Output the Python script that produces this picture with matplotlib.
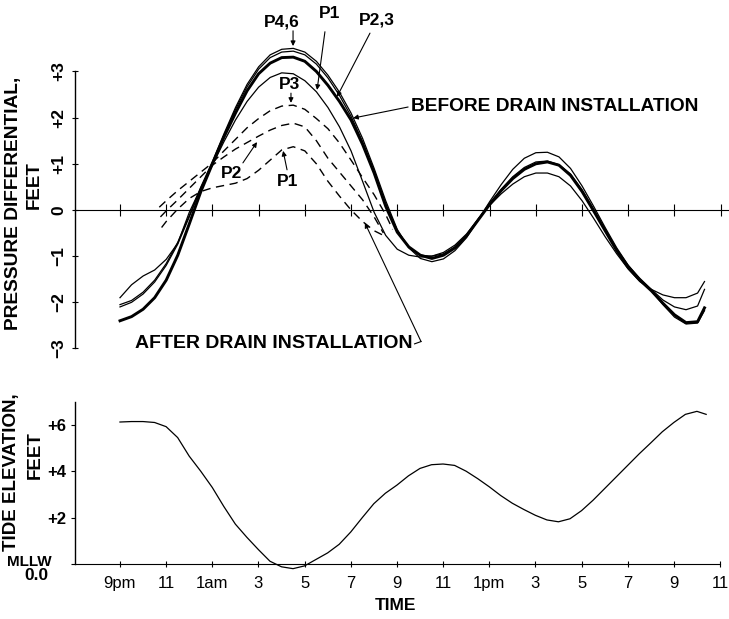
import matplotlib
matplotlib.use('Agg')
import matplotlib.pyplot as plt

plt.rcParams['font.family'] = ['Liberation Sans', 'DejaVu Sans']

# time axis: hours after 9pm
hours_before = [0, 0.5, 1, 1.5, 2, 2.5, 3, 3.5, 4, 4.5, 5, 5.5, 6, 6.5, 7, 7.5, 8, 8.5, 9, 9.5,
                10, 10.5, 11, 11.5, 12, 12.5, 13, 13.5, 14, 14.5, 15, 15.5, 16, 16.5, 17, 17.5,
                18, 18.5, 19, 19.5, 20, 20.5, 21, 21.5, 22, 22.5, 23, 23.5, 24, 24.5, 25, 25.3]

# pressure differential before drain installation (feet)
before_p46a = [-2.05, -1.96, -1.78, -1.52, -1.16, -0.70, -0.12, 0.50, 1.05, 1.65, 2.22, 2.72, 3.10, 3.36,
               3.48, 3.50, 3.42, 3.22, 2.92, 2.55, 2.10, 1.55, 0.90, 0.20, -0.42, -0.82, -1.05, -1.12,
               -1.06, -0.88, -0.60, -0.22, 0.18, 0.55, 0.88, 1.12, 1.24, 1.25, 1.15, 0.90, 0.52, 0.08,
               -0.38, -0.82, -1.20, -1.50, -1.75, -2.05, -2.32, -2.47, -2.45, -2.18]
before_p46b = [-2.10, -2.00, -1.82, -1.56, -1.20, -0.74, -0.15, 0.47, 1.02, 1.62, 2.18, 2.67, 3.05, 3.30,
               3.42, 3.44, 3.36, 3.16, 2.86, 2.48, 2.03, 1.48, 0.84, 0.14, -0.45, -0.80, -0.98, -1.00,
               -0.95, -0.80, -0.55, -0.20, 0.14, 0.45, 0.72, 0.92, 1.04, 1.06, 0.98, 0.78, 0.44, 0.02,
               -0.42, -0.85, -1.20, -1.48, -1.72, -1.95, -2.10, -2.16, -2.08, -1.72]
before_p23 = [-2.40, -2.31, -2.15, -1.90, -1.52, -0.98, -0.30, 0.40, 1.00, 1.58, 2.10, 2.58, 2.95, 3.18,
              3.30, 3.31, 3.22, 3.00, 2.70, 2.35, 1.95, 1.42, 0.80, 0.08, -0.48, -0.80, -0.98, -1.05,
              -0.98, -0.82, -0.56, -0.22, 0.12, 0.42, 0.68, 0.88, 1.00, 1.04, 0.97, 0.75, 0.40, -0.02,
              -0.45, -0.88, -1.25, -1.52, -1.75, -2.02, -2.27, -2.44, -2.42, -2.12]
before_p1 = [-1.90, -1.62, -1.43, -1.30, -1.07, -0.72, -0.05, 0.48, 0.97, 1.48, 1.95, 2.35, 2.66, 2.87,
             2.97, 2.95, 2.80, 2.56, 2.22, 1.80, 1.28, 0.62, -0.05, -0.55, -0.85, -0.98, -1.02, -1.00,
             -0.92, -0.76, -0.52, -0.20, 0.10, 0.35, 0.56, 0.72, 0.80, 0.80, 0.72, 0.52, 0.20, -0.18,
             -0.58, -0.95, -1.28, -1.55, -1.72, -1.84, -1.90, -1.90, -1.80, -1.55]

# after drain installation (dashed)
hours_after_p3 = [1.7, 2, 2.5, 3, 3.5, 4, 4.5, 5, 5.5, 6, 6.5, 7, 7.5, 8, 8.5, 9, 9.5, 10, 10.5, 11, 11.5, 11.8]
after_p3 = [0.06, 0.20, 0.42, 0.62, 0.82, 1.02, 1.28, 1.53, 1.78, 1.98, 2.15, 2.25, 2.27, 2.18, 1.98,
            1.76, 1.45, 1.08, 0.70, 0.33, -0.10, -0.42]
hours_after_p2 = [1.75, 2, 2.5, 3, 3.5, 4, 4.5, 5, 5.5, 6, 6.5, 7, 7.5, 8, 8.5, 9, 9.5, 10, 10.5, 11, 11.4]
after_p2 = [-0.15, -0.02, 0.22, 0.47, 0.72, 0.97, 1.15, 1.32, 1.46, 1.60, 1.73, 1.83, 1.88, 1.80, 1.50,
            1.12, 0.82, 0.52, 0.22, -0.15, -0.50]
hours_after_p1 = [1.8, 2, 2.5, 3, 3.5, 4, 4.5, 5, 5.5, 6, 6.5, 7, 7.5, 8, 8.5, 9, 9.5, 10, 10.5, 11, 11.4]
after_p1 = [-0.38, -0.25, 0.02, 0.25, 0.40, 0.48, 0.53, 0.58, 0.68, 0.86, 1.08, 1.30, 1.37, 1.28, 1.00,
            0.62, 0.30, 0.00, -0.25, -0.45, -0.55]

# tide elevation (feet above MLLW)
hours_tide = [0, 0.5, 1, 1.5, 2, 2.5, 3, 3.5, 4, 4.5, 5, 5.5, 6, 6.5, 7, 7.5, 8, 8.5, 9, 9.5,
              10, 10.5, 11, 11.5, 12, 12.5, 13, 13.5, 14, 14.5, 15, 15.5, 16, 16.5, 17, 17.5,
              18, 18.5, 19, 19.5, 20, 20.5, 21, 21.5, 22, 22.5, 23, 23.5, 24, 24.5, 25, 25.4]
tide = [6.12, 6.14, 6.14, 6.10, 5.92, 5.45, 4.65, 4.00, 3.30, 2.48, 1.72, 1.15, 0.62, 0.12, -0.12,
        -0.20, -0.08, 0.20, 0.48, 0.85, 1.38, 2.00, 2.60, 3.05, 3.40, 3.80, 4.12, 4.28, 4.31, 4.25,
        4.00, 3.68, 3.33, 2.95, 2.62, 2.35, 2.10, 1.90, 1.82, 1.95, 2.30, 2.75, 3.25, 3.75, 4.25,
        4.75, 5.22, 5.70, 6.10, 6.45, 6.58, 6.45]

tick_hours = [0, 2, 4, 6, 8, 10, 12, 14, 16, 18, 20, 22, 24, 26]
tick_labels = ['9pm', '11', '1am', '3', '5', '7', '9', '11', '1pm', '3', '5', '7', '9', '11']
pd_ticks = [-3, -2, -1, 0, 1, 2, 3]
pd_labels = ['\u22123', '\u22122', '\u22121', '0', '+1', '+2', '+3']
tide_ticks = [0, 2, 4, 6]
tide_labels = ['', '+2', '+4', '+6']

W, H = 729, 619
fig = plt.figure(figsize=(W / 100, H / 100), dpi=100)

def px(x, y):
    return x / W, 1 - y / H

# ---------- top panel: pressure differential ----------
ax = fig.add_axes([75 / W, 1 - 353.1 / H, (729 - 75) / W, 350.9 / H])
ax.set_xlim(-1.948, 26.36)
ax.set_ylim(-3.1, 4.5)
ax.plot(hours_before, before_p46a, color='black', lw=0.9)
ax.plot(hours_before, before_p46b, color='black', lw=0.9)
ax.plot(hours_before, before_p23, color='black', lw=2.1)
ax.plot(hours_before, before_p1, color='black', lw=0.9)
for hh, vv in [(hours_after_p3, after_p3), (hours_after_p2, after_p2), (hours_after_p1, after_p1)]:
    ax.plot(hh, vv, color='black', lw=1.0, dashes=(6, 4))

for s in ['top', 'right']:
    ax.spines[s].set_visible(False)
ax.spines['bottom'].set_position(('data', 0))
ax.spines['bottom'].set_linewidth(0.8)
ax.spines['left'].set_bounds(-3, 3)
ax.spines['left'].set_linewidth(1.0)
ax.set_xticks(tick_hours)
ax.tick_params(axis='x', direction='inout', length=8, width=0.8, labelbottom=False)
ax.set_yticks(pd_ticks)
ax.set_yticklabels(pd_labels, rotation=90, va='center', fontsize=12.5, fontweight='bold')
ax.tick_params(axis='y', direction='inout', length=5, width=0.8, pad=4)

arrow = dict(arrowstyle='-|>', lw=0.8, color='black', mutation_scale=7, shrinkA=0, shrinkB=0)
tkw = dict(fontsize=12.5, fontweight='bold', ha='center', va='center')
ax.text(6.98, 4.07, 'P4,6', **tkw)
ax.annotate('', xy=(7.49, 3.55), xytext=(7.49, 3.88), arrowprops=arrow)
ax.text(9.09, 4.25, 'P1', **tkw)
ax.annotate('', xy=(8.53, 2.6), xytext=(8.87, 3.86), arrowprops=arrow)
ax.text(11.13, 4.12, 'P2,3', **tkw)
ax.annotate('', xy=(9.39, 2.45), xytext=(10.82, 3.83), arrowprops=arrow)
ax.text(12.6, 2.25, 'BEFORE DRAIN INSTALLATION', fontsize=13.8, fontweight='bold', ha='left', va='center')
ax.annotate('', xy=(10.09, 1.99), xytext=(12.47, 2.23), arrowprops=arrow)
ax.text(7.32, 2.71, 'P3', **tkw)
ax.annotate('', xy=(7.4, 2.32), xytext=(7.4, 2.53), arrowprops=arrow)
ax.text(4.85, 0.8, 'P2', **tkw)
ax.annotate('', xy=(5.93, 1.47), xytext=(5.32, 1.02), arrowprops=arrow)
ax.text(7.27, 0.62, 'P1', **tkw)
ax.annotate('', xy=(7.06, 1.28), xytext=(7.23, 0.87), arrowprops=arrow)
ax.text(0.65, -2.9, 'AFTER DRAIN INSTALLATION', fontsize=14, fontweight='bold', ha='left', va='center')
ax.plot([12.75, 13.03], [-2.9, -2.85], color='black', lw=0.8)
ax.annotate('', xy=(10.6, -0.28), xytext=(13.03, -2.85), arrowprops=arrow)

fig.text(*px(14, 203), 'PRESSURE DIFFERENTIAL,', rotation=90, fontsize=13.8, fontweight='bold',
         ha='center', va='center')
fig.text(*px(34, 185), 'FEET', rotation=90, fontsize=13.5, fontweight='bold', ha='center', va='center')

# ---------- bottom panel: tide elevation ----------
bx = fig.add_axes([75 / W, 1 - 573.3 / H, (720 - 75) / W, 171.7 / H])
bx.set_xlim(-1.948, 26.0)
bx.set_ylim(-0.4, 7.0)
bx.plot(hours_tide, tide, color='black', lw=0.9)
for s in ['top', 'right']:
    bx.spines[s].set_visible(False)
bx.spines['bottom'].set_position(('data', 0))
bx.spines['bottom'].set_linewidth(0.8)
bx.spines['left'].set_bounds(0, 7)
bx.spines['left'].set_linewidth(1.0)
bx.set_xticks(tick_hours)
bx.set_xticklabels(tick_labels, fontsize=12)
bx.tick_params(axis='x', direction='inout', length=5, width=0.8, pad=6)
bx.set_yticks(tide_ticks)
bx.set_yticklabels(tide_labels, fontsize=12, fontweight='bold')
bx.tick_params(axis='y', direction='out', length=3, width=0.8, pad=3)

fig.text(*px(52, 562), 'MLLW', fontsize=11, fontweight='bold', ha='right', va='center')
fig.text(*px(36, 576), '0.0', fontsize=12.5, fontweight='bold', ha='center', va='center')
fig.text(*px(12, 472), 'TIDE ELEVATION,', rotation=90, fontsize=13.5, fontweight='bold',
         ha='center', va='center')
fig.text(*px(35, 455), 'FEET', rotation=90, fontsize=13.5, fontweight='bold', ha='center', va='center')
fig.text(*px(395, 606), 'TIME', fontsize=12.5, fontweight='bold', ha='center', va='center')

fig.savefig('out.png', dpi=100)
